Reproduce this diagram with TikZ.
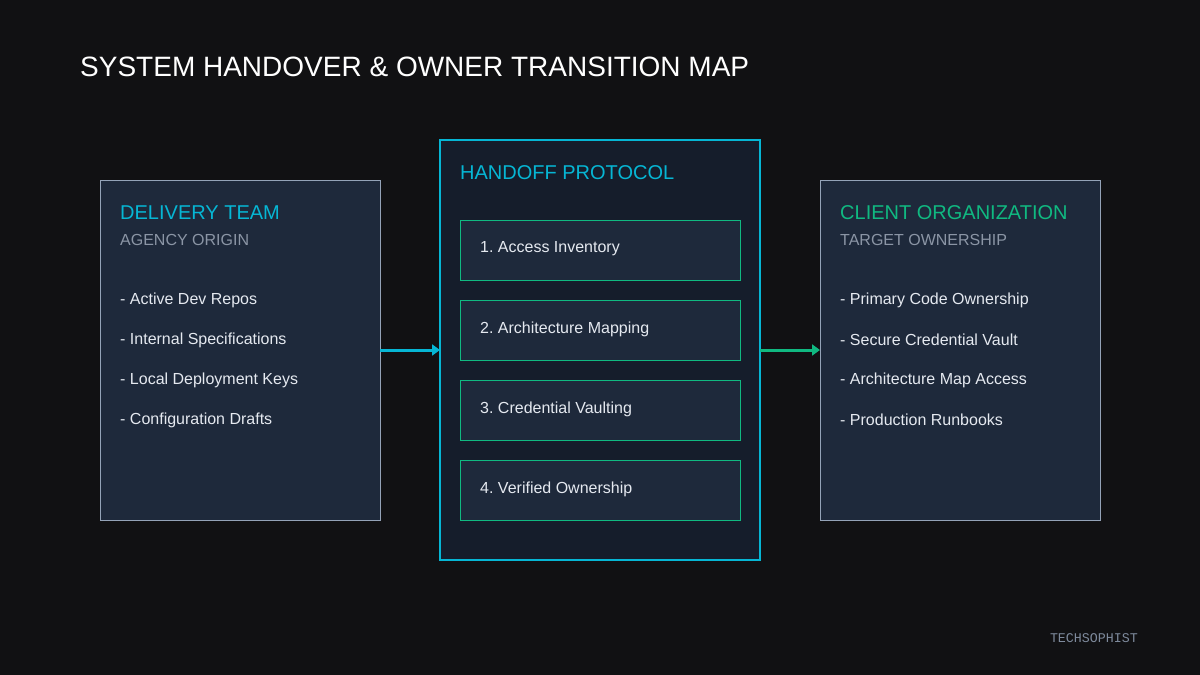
\documentclass[tikz,border=0pt]{standalone}
\usepackage{fontspec}
\setmainfont{Liberation Sans}
\setmonofont{Liberation Mono}
\usetikzlibrary{arrows.meta}
\usetikzlibrary{positioning}
\definecolor{bgdark}{HTML}{111113}
\definecolor{panel}{HTML}{1E293B}
\definecolor{panelmid}{HTML}{151D2B}
\definecolor{cyanline}{HTML}{06B6D4}
\definecolor{greenline}{HTML}{10B981}
\definecolor{slateline}{HTML}{94A3B8}
\definecolor{subtext}{HTML}{8B95A5}
\definecolor{bodytext}{HTML}{E5E9F0}
\frenchspacing

\begin{document}
\begin{tikzpicture}[x=1pt,y=-1pt,>={Triangle[length=8pt,width=11pt]},
  side box/.style={draw=slateline,fill=panel,line width=1pt,inner sep=0,outer sep=0,
    minimum width=280pt,minimum height=340pt,anchor=north west},
  step box/.style={draw=greenline,fill=panel,line width=1pt,inner sep=0,outer sep=0,
    minimum width=280pt,minimum height=60pt,anchor=north west},
  head text/.style={anchor=base west,inner sep=0,font=\fontsize{20}{24}\selectfont},
  sub text/.style={anchor=base west,inner sep=0,text=subtext,font=\fontsize{16}{19}\selectfont},
  item text/.style={anchor=west,inner sep=0,text=bodytext,font=\fontsize{16}{19}\selectfont},
  flow/.style={->,line width=3pt}]

\fill[bgdark] (0,0) rectangle (1200,675);
\useasboundingbox (0,0) rectangle (1200,675);

\node[anchor=base west,inner sep=0,text=white,font=\fontsize{28}{32}\selectfont]
  (title) at (80,76) {SYSTEM HANDOVER \& OWNER TRANSITION MAP};

% left side
\node[side box] (delivery) at (100,180) {};
\node[head text,text=cyanline] (deliveryhead) at (120,219) {DELIVERY TEAM};
\node[sub text] (deliverysub) at (120,245) {AGENCY ORIGIN};
\foreach \t [count=\c] in {Active Dev Repos,Internal Specifications,Local Deployment Keys,Configuration Drafts}{
  \node[item text] (left\c) at (120,260+\c*40) {- \t};
}

% middle
\node[draw=cyanline,fill=panelmid,line width=2pt,inner sep=0,outer sep=0,
  minimum width=320pt,minimum height=420pt,anchor=north west] (protocol) at (440,140) {};
\node[head text,text=cyanline] (protocolhead) at (460,179) {HANDOFF PROTOCOL};
\foreach \t [count=\c] in {Access Inventory,Architecture Mapping,Credential Vaulting,Verified Ownership}{
  \node[step box] (step\c) at (460,140+\c*80) {};
  \node[item text] (steptext\c) at (480,169+\c*80) {\c. \t};
}

% right side
\node[side box] (client) at (820,180) {};
\node[head text,text=greenline] (clienthead) at (840,219) {CLIENT ORGANIZATION};
\node[sub text] (clientsub) at (840,245) {TARGET OWNERSHIP};
\foreach \t [count=\c] in {Primary Code Ownership,Secure Credential Vault,Architecture Map Access,Production Runbooks}{
  \node[item text] (right\c) at (840,260+\c*40) {- \t};
}

\draw[flow,cyanline] (delivery.east) -- (protocol.west);
\draw[flow,greenline] (protocol.east) -- (client.west);

\node[anchor=base east,inner sep=0,text=slateline!85!black,font=\ttfamily\fontsize{13.3}{15}\selectfont]
  (brand) at (1138,642) {TECHSOPHIST};
\end{tikzpicture}
\end{document}
